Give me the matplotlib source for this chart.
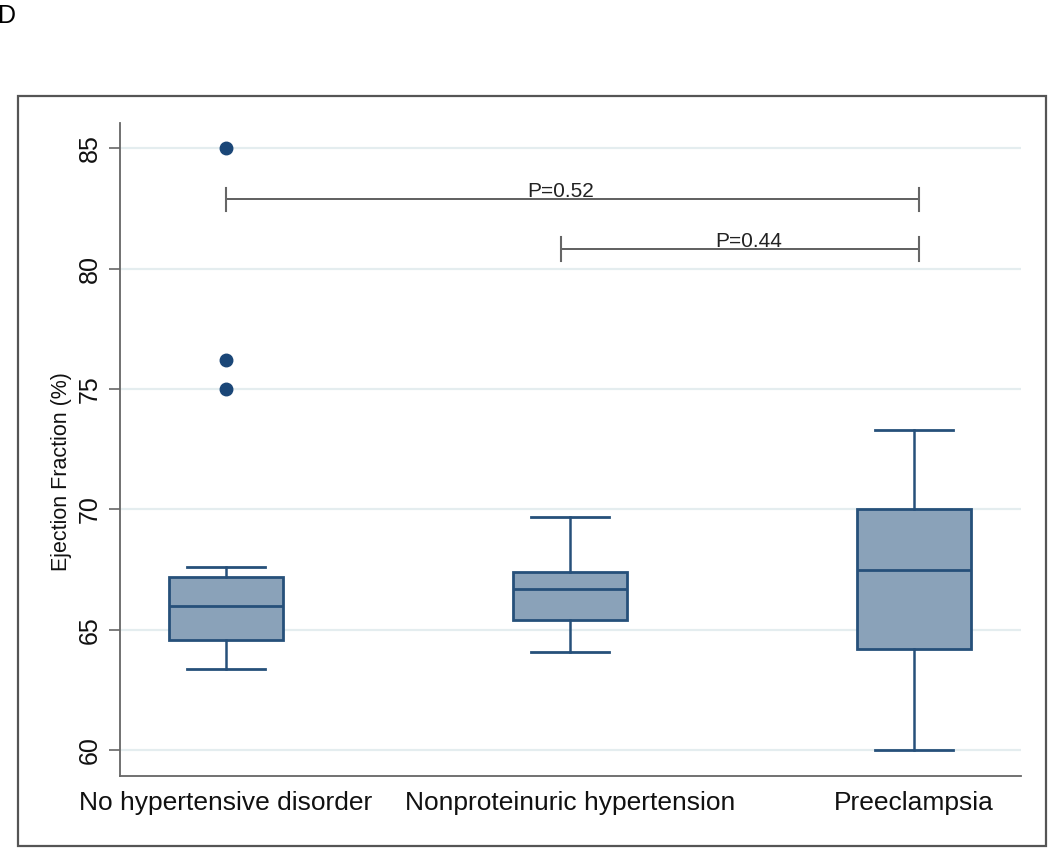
import matplotlib
matplotlib.use("Agg")
import matplotlib.pyplot as plt
from matplotlib.patches import Rectangle

plt.rcParams['font.family'] = ['Liberation Sans', 'DejaVu Sans']

# data
groups = ["No hypertensive disorder", "Nonproteinuric hypertension", "Preeclampsia"]
whislo = [63.4, 64.1, 60.0]
q1 = [64.6, 65.4, 64.2]
med = [66.0, 66.7, 67.5]
q3 = [67.2, 67.4, 70.0]
whishi = [67.6, 69.7, 73.3]
fliers = [[75.0, 76.2, 85.0], [], []]

yticks = [60, 65, 70, 75, 80, 85]

# significance brackets: (x start, x end, y level, label x, label)
br_x0 = [1.0, 1.974]
br_x1 = [3.015, 3.015]
br_y = [82.88, 80.81]
br_tx = [1.974, 2.52]
br_lab = ["P=0.52", "P=0.44"]

box_fill = "#8aa2b9"
box_edge = "#26507a"
dot_col = "#1a4677"

fig = plt.figure(figsize=(10.5, 8.48), dpi=100)
ax = fig.add_axes([120 / 1050, 72 / 848, 901 / 1050, 653 / 848])

stats = []
for i in range(len(groups)):
    stats.append(dict(med=med[i], q1=q1[i], q3=q3[i],
                      whislo=whislo[i], whishi=whishi[i], fliers=fliers[i]))

ax.bxp(stats, positions=[1, 2, 3], widths=0.334, capwidths=0.227,
       patch_artist=True, showfliers=True,
       boxprops=dict(facecolor=box_fill, edgecolor=box_edge, linewidth=2.0),
       medianprops=dict(color=box_edge, linewidth=2.0),
       whiskerprops=dict(color=box_edge, linewidth=1.8),
       capprops=dict(color=box_edge, linewidth=2.0),
       flierprops=dict(marker='o', markersize=9, markerfacecolor=dot_col,
                       markeredgecolor=dot_col), zorder=3)

# brackets
for x0, x1, y, tx, lab in zip(br_x0, br_x1, br_y, br_tx, br_lab):
    ax.plot([x0, x1], [y, y], color="#444444", lw=1.2, zorder=4)
    ax.plot([x0, x0], [y - 0.48, y + 0.48], color="#666666", lw=1.5, zorder=4)
    ax.plot([x1, x1], [y - 0.48, y + 0.48], color="#666666", lw=1.5, zorder=4)
    ax.text(tx, y + 0.1, lab, ha='center', va='baseline', fontsize=15, color="#222222")

ax.set_xlim(0.692, 3.311)
ax.set_ylim(58.94, 86.04)
ax.set_yticks(yticks)
ax.set_xticks([1, 2, 3])
ax.set_xticklabels(groups, fontsize=19, color="#111111")
ax.tick_params(axis='x', length=0, pad=11)
ax.tick_params(axis='y', length=8, width=1.2, color="#666666", pad=5,
               labelsize=18, labelcolor="#111111", labelrotation=90)
for lbl in ax.get_yticklabels():
    lbl.set_va('center')

ax.grid(axis='y', color="#e4edef", linewidth=1.6, zorder=0)
ax.set_axisbelow(True)
for s in ['top', 'right']:
    ax.spines[s].set_visible(False)
for s in ['left', 'bottom']:
    ax.spines[s].set_color("#666666")
    ax.spines[s].set_linewidth(1.3)

ax.set_ylabel("Ejection Fraction (%)", fontsize=15.5, color="#111111")
ax.yaxis.set_label_coords(-0.053, 0.466)

# outer frame
fig.patches.append(Rectangle((18 / 1050, 2 / 848), 1028 / 1050, 750 / 848,
                             transform=fig.transFigure, fill=False,
                             edgecolor="#555555", linewidth=1.6))

fig.text(-2 / 1050, 1 - 23 / 848, "D", fontsize=18, ha='left', va='baseline')

fig.savefig("out.png", dpi=100)
